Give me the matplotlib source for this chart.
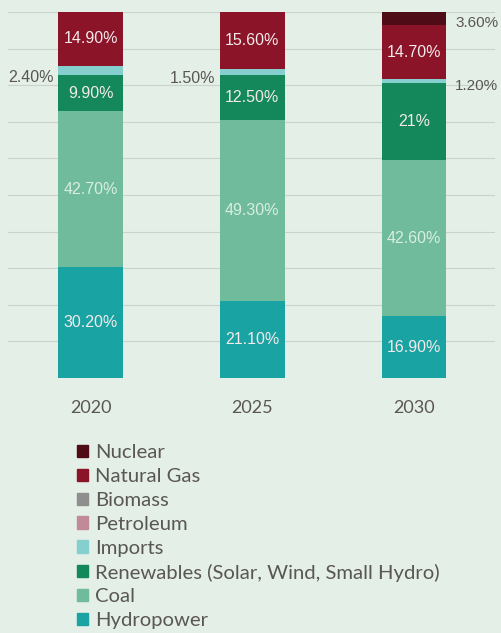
import matplotlib.pyplot as plt
from matplotlib.patches import Patch

years = ['2020', '2025', '2030']
sources = ['Hydropower', 'Coal', 'Renewables (Solar, Wind, Small Hydro)', 'Imports',
           'Petroleum', 'Biomass', 'Natural Gas', 'Nuclear']
hydro = [30.2, 21.1, 16.9]
coal = [42.7, 49.3, 42.6]
renew = [9.9, 12.5, 21.0]
imports = [2.4, 1.5, 1.2]
petroleum = [0, 0, 0]
biomass = [0, 0, 0]
gas = [14.9, 15.6, 14.7]
nuclear = [0, 0, 3.6]
series = [hydro, coal, renew, imports, petroleum, biomass, gas, nuclear]
colors = ['#1aa3a3', '#6fbb9c', '#14885a', '#86cfcf', '#c28a98', '#8e8e8e', '#8b1428', '#4f0c16']
labels = [['30.20%', '21.10%', '16.90%'],
          ['42.70%', '49.30%', '42.60%'],
          ['9.90%', '12.50%', '21%'],
          None, None, None,
          ['14.90%', '15.60%', '14.70%'],
          None]
outside = [(0, 3, '2.40%', 'left'), (1, 3, '1.50%', 'left'),
           (2, 3, '1.20%', 'right'), (2, 7, '3.60%', 'right')]

bg = '#e3efe7'
txt = '#5b5656'

fig = plt.figure(figsize=(5.01, 6.33), dpi=100, facecolor=bg)
ax = fig.add_axes([8 / 501, 1 - 378 / 633, 487 / 501, 366 / 633], facecolor=bg)

x = range(len(years))
bottom = [0, 0, 0]
centers = []
for vals, c in zip(series, colors):
    ax.bar(x, vals, width=0.4, bottom=bottom, color=c, zorder=2)
    centers.append([b + v / 2 for b, v in zip(bottom, vals)])
    bottom = [b + v for b, v in zip(bottom, vals)]

for s, labs in enumerate(labels):
    if labs is None:
        continue
    col = '#d9ede4' if s == 1 else '#f3eaea'
    for i, t in enumerate(labs):
        ax.text(i, centers[s][i], t, ha='center', va='center', color=col,
                fontsize=11.5, family='Liberation Sans', zorder=3)

for i, s, t, side in outside:
    if side == 'left':
        ax.text(i - 0.23, centers[s][i] - 1.8, t, ha='right', va='center', color=txt,
                fontsize=11.5, family='Liberation Sans', zorder=3)
    else:
        ax.text(2.52, centers[s][i] - 1.2, t, ha='right', va='center', color=txt,
                fontsize=11, family='Liberation Sans', zorder=3)

ax.set_xlim(-0.51, 2.5)
ax.set_ylim(0, 100)
ax.set_yticks(range(0, 101, 10))
ax.yaxis.grid(True, color='#c9d3cc', linewidth=0.8, zorder=0)
ax.tick_params(left=False, labelleft=False, bottom=False)
ax.set_xticks(list(x))
ax.set_xticklabels(years, fontsize=13, color=txt, family='Lato')
ax.tick_params(axis='x', pad=12)
for sp in ax.spines.values():
    sp.set_visible(False)

handles = [Patch(color=c, label=l) for c, l in zip(colors, sources)][::-1]
leg = fig.legend(handles=handles, loc='upper left', bbox_to_anchor=(77 / 501, 1 - 444 / 633),
                 frameon=False, borderpad=0, borderaxespad=0,
                 handlelength=0.55, handleheight=0.55, handletextpad=0.35,
                 labelspacing=0.34, prop={'family': 'Lato', 'size': 14.6})
for t in leg.get_texts():
    t.set_color(txt)

fig.savefig('out.png', dpi=100, facecolor=bg)
